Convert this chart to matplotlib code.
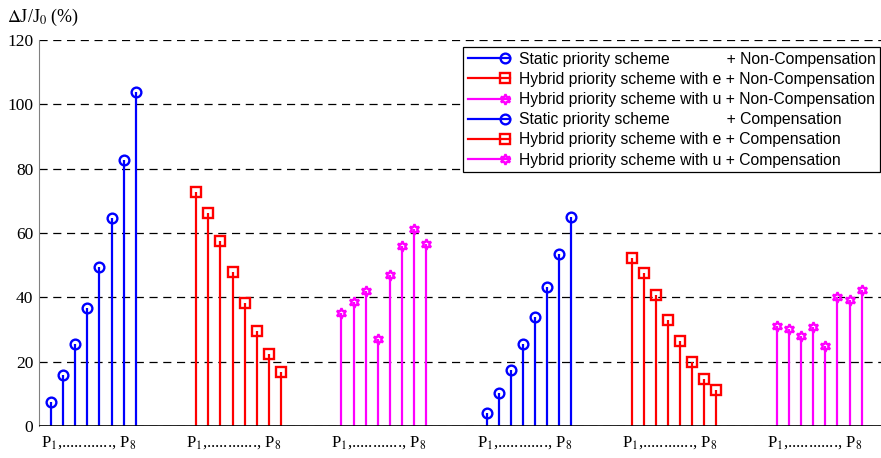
import matplotlib.pyplot as plt
import numpy as np
from matplotlib.legend_handler import HandlerLine2DCompound

plt.rcParams['font.family'] = 'Liberation Serif'
plt.rcParams['mathtext.fontset'] = 'stix'

# cost increase per task P1..P8 for each scheme
static_noncomp = [7.6, 15.9, 25.4, 36.7, 49.5, 64.6, 82.6, 103.8]
hybrid_e_noncomp = [72.8, 66.3, 57.5, 47.8, 38.2, 29.6, 22.3, 16.8]
hybrid_u_noncomp = [35.0, 38.6, 42.1, 27.0, 47.0, 56.1, 61.2, 56.7]
static_comp = [3.9, 10.4, 17.3, 25.4, 33.9, 43.3, 53.6, 65.1]
hybrid_e_comp = [52.2, 47.7, 40.7, 33.0, 26.3, 19.8, 14.7, 11.3]
hybrid_u_comp = [31.2, 30.2, 28.0, 30.8, 25.0, 40.0, 39.1, 42.4]

labels = ['Static priority scheme             + Non-Compensation',
          'Hybrid priority scheme with e + Non-Compensation',
          'Hybrid priority scheme with u + Non-Compensation',
          'Static priority scheme             + Compensation',
          'Hybrid priority scheme with e + Compensation',
          'Hybrid priority scheme with u + Compensation']
group_label = 'P$_1$,............, P$_8$'

series = [static_noncomp, hybrid_e_noncomp, hybrid_u_noncomp,
          static_comp, hybrid_e_comp, hybrid_u_comp]
colors = ['#0000ff', '#ff0000', '#ff00ff'] * 2
markers = ['o', 's', (6, 1, 0)] * 2
sizes = [7, 6.5, 7.5] * 2


class EndMarkerHandler(HandlerLine2DCompound):
    # legend entry with the marker at the right end of the line
    def create_artists(self, legend, orig_handle, xdescent, ydescent,
                       width, height, fontsize, trans):
        artists = super().create_artists(legend, orig_handle, xdescent, ydescent,
                                         width, height, fontsize, trans)
        artists[-1].set_xdata([width - xdescent - 4])
        return artists


fig = plt.figure(figsize=(8.81, 4.58), dpi=100)
ax = fig.add_axes([39 / 881, 1 - 426 / 458, 1 - 39 / 881, 386 / 458])

centers = []
handles = []
for g, (vals, c, m, ms) in enumerate(zip(series, colors, markers, sizes)):
    x = np.arange(1, 9) + 12 * g
    centers.append(x.mean() - 0.4)
    style = dict(marker=m, ms=ms, mfc='none', mec=c, mew=1.7, color=c)
    ax.vlines(x, 0, vals, color=c, lw=1.6, zorder=3)
    ax.plot(x, vals, linestyle='none', zorder=4, **style)
    h, = ax.plot([], [], lw=1.6, label=labels[g], **style)
    handles.append(h)

ax.axhline(0, color='black', lw=1.2, zorder=5)
ax.set_xlim(0, 69.6)
ax.set_ylim(0, 120)
ax.set_yticks(np.arange(0, 121, 20))
ax.yaxis.grid(True, linestyle=(0, (6.5, 4.5)), color='black', lw=0.9)
ax.set_axisbelow(True)
ax.set_xticks(centers)
ax.set_xticklabels([group_label] * 6, fontsize=12)
ax.tick_params(axis='x', length=0, pad=6)
ax.tick_params(axis='y', length=0, labelsize=12.5, pad=4)
for s in ['top', 'right', 'bottom']:
    ax.spines[s].set_visible(False)
ax.spines['left'].set_color('#808080')

fig.text(0.008, 0.962, r'$\Delta$J/J$_0$ (%)', fontsize=13, va='center', ha='left')

leg = fig.legend(handles=handles, loc='upper left',
                 bbox_to_anchor=(463 / 881, 1 - 47 / 458),
                 handler_map={h: EndMarkerHandler(numpoints=1) for h in handles},
                 prop={'family': 'Liberation Sans', 'size': 11.3},
                 frameon=True, fancybox=False, edgecolor='black', framealpha=1,
                 handlelength=2.7, labelspacing=0.33, borderpad=0.3,
                 handletextpad=0.55, borderaxespad=0)
leg.get_frame().set_linewidth(0.9)

fig.savefig('out.png', dpi=100)
